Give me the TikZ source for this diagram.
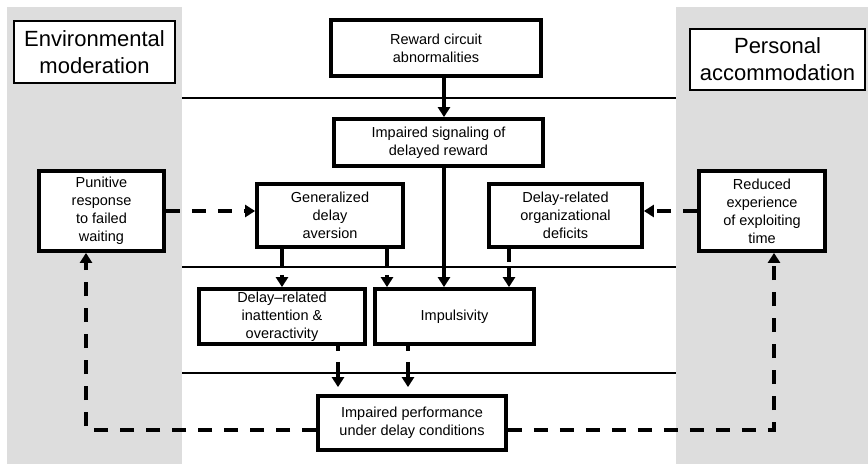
\documentclass[tikz,border=0pt]{standalone}
\usepackage{fontspec}
\setmainfont{Liberation Sans}
\usetikzlibrary{arrows.meta}
\definecolor{panelgray}{RGB}{221,221,221}
\begin{document}
\begin{tikzpicture}[x=1pt,y=-1pt,
  box/.style={draw,line width=3.8pt,align=center,inner sep=0pt,fill=white,
    font=\fontsize{14.5}{18}\selectfont},
  titlebox/.style={draw,line width=1.6pt,fill=white,align=center,inner sep=0pt,
    font=\fontsize{22}{27}\selectfont},
  sepline/.style={line width=1.1pt},
  arr/.style={line width=3.4pt,-{Triangle[width=12pt,length=10pt]}},
  dasharr/.style={arr,dash pattern=on 14pt off 12pt},
  gapA/.style={arr,dash pattern=on 17pt off 9pt on 40pt},
  gapB/.style={arr,dash pattern=on 13pt off 6pt on 40pt},
  gapC/.style={arr,dash pattern=on 5pt off 11pt on 60pt,shorten >=7pt},
]
\useasboundingbox (0,0) rectangle (868,464);
% panels
\fill[panelgray] (7,7) rectangle (182,464);
\fill[panelgray] (676,7) rectangle (868,464);
% separator lines
\draw[sepline] (182,98) -- (676,98);
\draw[sepline] (182,267) -- (676,267);
\draw[sepline] (182,373) -- (676,373);
% titles
\node[titlebox,minimum width=161pt,minimum height=62pt] (envt) at (94.5,52) {Environmental\\moderation};
\node[titlebox,minimum width=175pt,minimum height=61pt] (pert) at (777.5,59.5) {Personal\\accommodation};
% boxes
\node[box,minimum width=210pt,minimum height=56pt] (reward) at (436,48) {Reward circuit\\abnormalities};
\node[box,minimum width=209pt,minimum height=47pt] (sig) at (438.5,142.5) {Impaired signaling of\\delayed reward};
\node[box,minimum width=146pt,minimum height=63pt] (gen) at (330,215.5) {Generalized\\delay\\aversion};
\node[box,minimum width=153pt,minimum height=63pt] (org) at (565.5,215.5) {Delay-related\\organizational\\deficits};
\node[box,minimum width=125pt,minimum height=80pt] (pun) at (101.5,211) {Punitive\\response\\to failed\\waiting};
\node[box,minimum width=126pt,minimum height=80pt] (red) at (762,211) {Reduced\\experience\\of exploiting\\time};
\node[box,minimum width=166pt,minimum height=55pt] (inat) at (282,316.5) {Delay–related\\inattention \&\\overactivity};
\node[box,minimum width=159pt,minimum height=55pt] (imp) at (454.5,316.5) {Impulsivity};
\node[box,minimum width=188pt,minimum height=54pt] (perf) at (412,423) {Impaired performance\\under delay conditions};
% x positions of vertical connectors
\coordinate (xa) at (444,0);
\coordinate (xb) at (282,0);
\coordinate (xc) at (387,0);
\coordinate (xd) at (509,0);
\coordinate (xe) at (338,0);
\coordinate (xf) at (408,0);
\coordinate (xl) at (86,0);
\coordinate (xr) at (774,0);
\coordinate (yb) at (0,430);
% connectors
\draw[arr] (xa |- reward.south) -- (xa |- sig.north);
\draw[arr] (xa |- sig.south) -- (xa |- imp.north);
\draw[gapA] (xb |- gen.south) -- (xb |- inat.north);
\draw[gapA] (xc |- gen.south) -- (xc |- imp.north);
\draw[gapB] (xd |- org.south) -- (xd |- imp.north);
\draw[gapC] (xe |- inat.south) -- (xe |- perf.north);
\draw[gapC] (xf |- imp.south) -- (xf |- perf.north);
\draw[dasharr] (pun.east) -- (pun.east -| gen.west);
\draw[dasharr] (red.west) -- (red.west -| org.east);
\draw[dasharr] (perf.west |- yb) -| (xl |- pun.south);
\draw[dasharr] (perf.east |- yb) -| (xr |- red.south);
\end{tikzpicture}
\end{document}
